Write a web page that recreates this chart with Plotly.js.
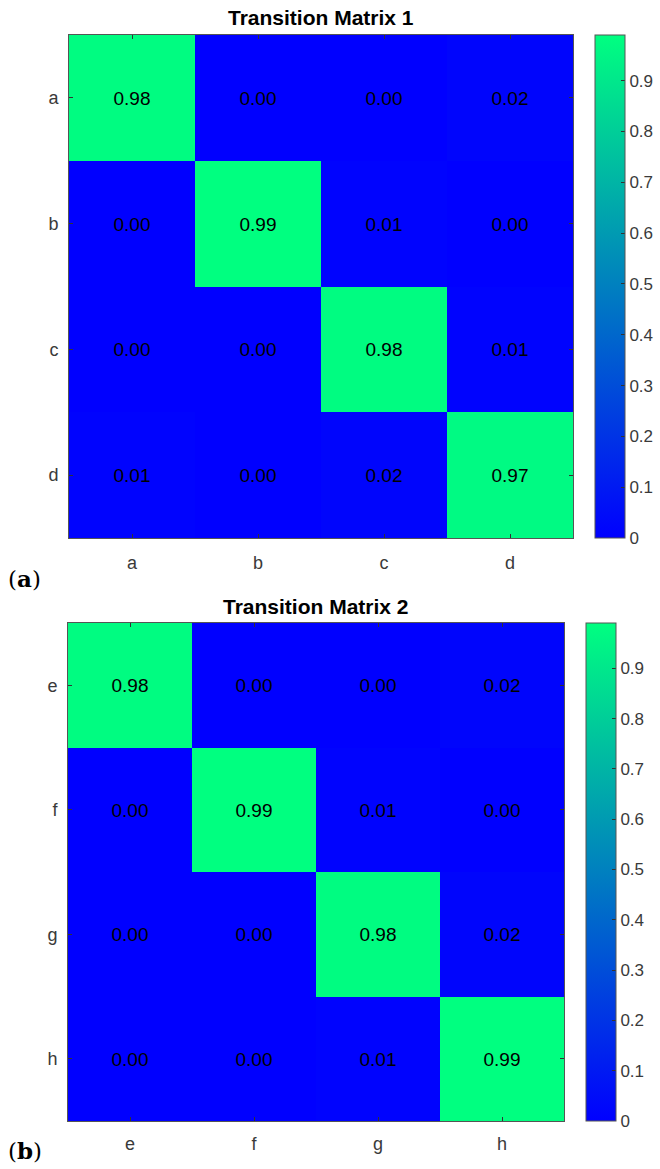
<!DOCTYPE html>
<html>
<head>
<meta charset="utf-8">
<script src="https://cdn.plot.ly/plotly-3.0.1.min.js"></script>
<style>html,body{margin:0;padding:0;background:#fff;}#chart{width:660px;height:1169px;}</style>
</head>
<body>
<div id="chart"></div>
<script>
// ---- data ----
const labels1 = ["a", "b", "c", "d"];
const labels2 = ["e", "f", "g", "h"];
const matrix1 = [
  [0.98, 0.00, 0.00, 0.02],
  [0.00, 0.99, 0.01, 0.00],
  [0.00, 0.00, 0.98, 0.01],
  [0.01, 0.00, 0.02, 0.97]
];
const matrix2 = [
  [0.98, 0.00, 0.00, 0.02],
  [0.00, 0.99, 0.01, 0.00],
  [0.00, 0.00, 0.98, 0.02],
  [0.00, 0.00, 0.01, 0.99]
];
const colorbarTicks = [0, 0.1, 0.2, 0.3, 0.4, 0.5, 0.6, 0.7, 0.8, 0.9];
const titles = ["Transition Matrix 1", "Transition Matrix 2"];
const panelTags = ["a", "b"];

// ---- layout helpers ----
const W = 660, H = 1169;
const px = x => x / W;
const py = y => 1 - y / H;
const winter = [[0, "#0000FF"], [1, "#00FF80"]];
const font = "Arial, 'Liberation Sans', Helvetica, sans-serif";
const tickColor = "#3a3a3a";

function cb(top, bottom, left) {
  return {
    x: px(left), xanchor: "left",
    y: py(top), yanchor: "top",
    len: bottom - top, lenmode: "pixels",
    thickness: 30, thicknessmode: "pixels",
    xpad: 0, ypad: 0,
    outlinewidth: 1, outlinecolor: "#555",
    tickmode: "array", tickvals: colorbarTicks,
    ticktext: colorbarTicks.map(v => v === 0 ? "0" : String(v)),
    ticks: "inside", ticklen: 4, tickcolor: "#333",
    ticklabelstandoff: 4,
    tickfont: {family: font, size: 17, color: tickColor}
  };
}

const traces = [
  {
    type: "heatmap", z: matrix1, x: labels1, y: labels1,
    xaxis: "x", yaxis: "y",
    colorscale: winter, zmin: 0, zmax: 0.99,
    texttemplate: "%{z:.2f}",
    textfont: {family: font, size: 19, color: "#000"},
    hoverinfo: "skip",
    colorbar: cb(35, 538, 595)
  },
  {
    type: "heatmap", z: matrix2, x: labels2, y: labels2,
    xaxis: "x2", yaxis: "y2",
    colorscale: winter, zmin: 0, zmax: 0.99,
    texttemplate: "%{z:.2f}",
    textfont: {family: font, size: 19, color: "#000"},
    hoverinfo: "skip",
    colorbar: cb(623, 1121, 586)
  }
];

function ax(extra) {
  return Object.assign({
    showline: true, linecolor: "#555", linewidth: 1, mirror: "ticks",
    ticks: "inside", ticklen: 4, tickcolor: "#333",
    showgrid: false, zeroline: false, fixedrange: true,
    tickfont: {family: font, size: 18, color: tickColor}
  }, extra);
}

const layout = {
  width: W, height: H,
  margin: {l: 0, r: 0, t: 0, b: 0},
  paper_bgcolor: "#fff", plot_bgcolor: "#fff",
  showlegend: false,
  xaxis: ax({domain: [px(69), px(573)], anchor: "y", ticklabelstandoff: 8}),
  yaxis: ax({domain: [py(538), py(35)], anchor: "x", autorange: "reversed", ticklabelstandoff: 6}),
  xaxis2: ax({domain: [px(68), px(564)], anchor: "y2", ticklabelstandoff: 6}),
  yaxis2: ax({domain: [py(1121), py(623)], anchor: "x2", autorange: "reversed", ticklabelstandoff: 6}),
  annotations: [
    {text: "<b>" + titles[0] + "</b>", xref: "paper", yref: "paper", x: px(321), y: py(18),
     xanchor: "center", yanchor: "middle", showarrow: false, font: {family: font, size: 21, color: "#000"}},
    {text: "<b>" + titles[1] + "</b>", xref: "paper", yref: "paper", x: px(316), y: py(606),
     xanchor: "center", yanchor: "middle", showarrow: false, font: {family: font, size: 21, color: "#000"}},
    {text: "(<b>" + panelTags[0] + "</b>)", xref: "paper", yref: "paper", x: px(6), y: py(578),
     xanchor: "left", yanchor: "middle", showarrow: false,
     font: {family: "'DejaVu Serif', 'Liberation Serif', serif", size: 23, color: "#000"}},
    {text: "(<b>" + panelTags[1] + "</b>)", xref: "paper", yref: "paper", x: px(6), y: py(1150),
     xanchor: "left", yanchor: "middle", showarrow: false,
     font: {family: "'DejaVu Serif', 'Liberation Serif', serif", size: 23, color: "#000"}}
  ]
};

Plotly.newPlot("chart", traces, layout, {displayModeBar: false, staticPlot: true});
</script>
</body>
</html>
